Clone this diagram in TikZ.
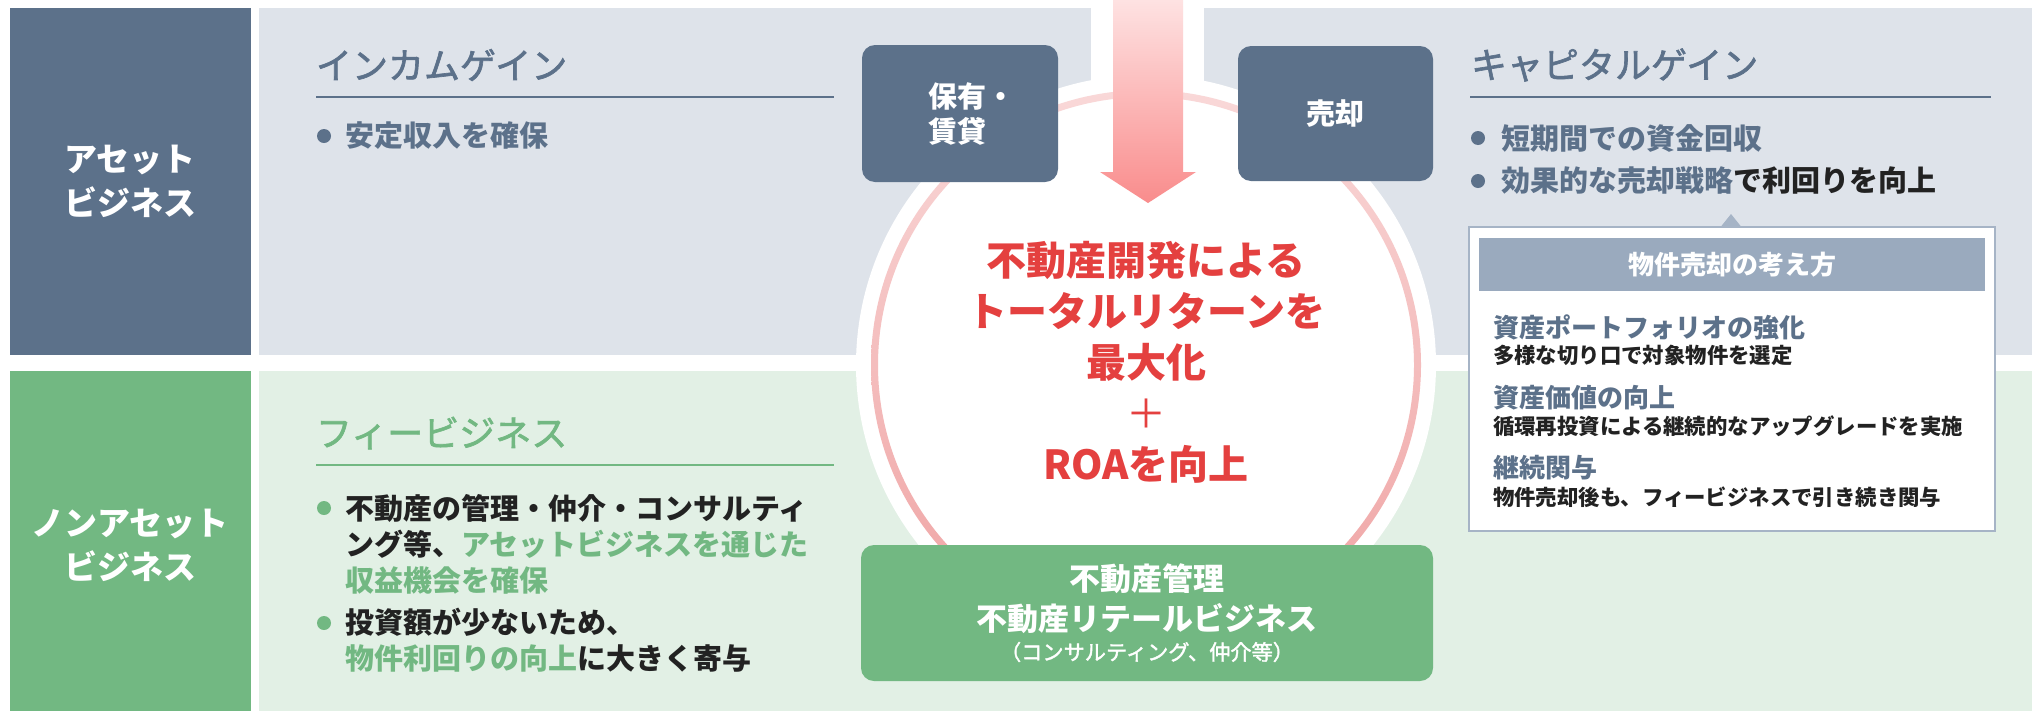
\documentclass[tikz,border=0pt]{standalone}
\usepackage{fontspec}
\setmainfont{Noto Sans CJK JP}
\newfontfamily\medfont{Noto Sans CJK JP}[FakeBold=1.8]
\definecolor{slate}{HTML}{5C718A}
\definecolor{topbg}{HTML}{DEE3EA}
\definecolor{fgreen}{HTML}{72B882}
\definecolor{botbg}{HTML}{E2F0E5}
\definecolor{redtxt}{HTML}{E4403F}
\definecolor{ringtop}{HTML}{F9D8D8}
\definecolor{ringbot}{HTML}{EFA2A2}
\definecolor{arrowtop}{HTML}{FEE2E2}
\definecolor{arrowbot}{HTML}{F98C8C}
\definecolor{pophead}{HTML}{9AAABE}
\definecolor{popborder}{HTML}{A6B4C6}
\definecolor{darktxt}{HTML}{222222}
\newcommand{\fsz}[2]{\fontsize{#1}{#2}\selectfont}
\begin{document}
\begin{tikzpicture}[x=0.5pt,y=-0.5pt,
  every node/.style={inner sep=0pt,outer sep=0pt},
  sidelabel/.style={text=white,font=\bfseries\fsz{16.5pt}{22pt},align=center},
  heading/.style={anchor=west,font=\medfont\fsz{18pt}{22pt}},
  bullettext/.style={anchor=west,align=left,font=\bfseries\fsz{14.5pt}{18pt}},
  dot/.style={circle,minimum size=7pt},
  slatebox/.style={fill=slate,rounded corners=6.5pt},
  boxtext/.style={text=white,font=\bfseries\fsz{14.5pt}{17.5pt},align=left},
  poptitle/.style={anchor=west,text=slate,font=\bfseries\fsz{13pt}{16pt}},
  popdesc/.style={anchor=west,text=darktxt,font=\bfseries\fsz{10.7pt}{13pt}}
]
\useasboundingbox (0,0) rectangle (2040,713);
\fill[white] (0,0) rectangle (2040,713);

% side columns
\fill[slate] (10,8) rectangle (251,355);
\fill[fgreen] (10,371) rectangle (251,711);
\node[sidelabel] (assetlbl) at (130,181) {アセット\\ビジネス};
\node[sidelabel] (nonassetlbl) at (130,545) {ノンアセット\\ビジネス};

% bands
\fill[topbg] (259,8) rectangle (2032,355);
\fill[botbg] (259,371) rectangle (2032,711);

% white gap round the arrow and the circle
\fill[white] (1091,0) rectangle (1204,200);
\fill[white] (1146,365) circle (290);
\shade[top color=ringtop,bottom color=ringbot,even odd rule]
  (1146,365) circle (275) (1146,365) circle (268);

% income gain
\node[heading,text=slate] (income) at (316,65) {インカムゲイン};
\draw[slate,line width=1.1pt] (316,97) -- (834,97);
\node[dot,fill=slate] (d1) at (324,136) {};
\node[bullettext,text=slate] (b1) at (345,136) {安定収入を確保};

% capital gain
\node[heading,text=slate] (capital) at (1471,65) {キャピタルゲイン};
\draw[slate,line width=1.1pt] (1470,97) -- (1991,97);
\node[dot,fill=slate] (d2) at (1478,138) {};
\node[bullettext,text=slate] (b2) at (1501,138) {短期間での資金回収};
\node[dot,fill=slate] (d3) at (1478,181) {};
\node[bullettext,text=slate] (b3) at (1501,181) {効果的な売却戦略\textcolor{darktxt}{で利回りを向上}};

% fee business
\node[heading,text=fgreen] (fee) at (316,433) {フィービジネス};
\draw[fgreen,line width=1.1pt] (316,465) -- (834,465);
\node[dot,fill=fgreen] (d4) at (324,508) {};
\node[bullettext,text=darktxt] (b4) at (345,544)
  {不動産の管理・仲介・コンサルティ\\ング等、\textcolor{fgreen}{アセットビジネスを通じた}\\\textcolor{fgreen}{収益機会を確保}};
\node[dot,fill=fgreen] (d5) at (324,623) {};
\node[bullettext,text=darktxt] (b5) at (345,640.5)
  {投資額が少ないため、\\\textcolor{fgreen}{物件利回りの向上}に大きく寄与};

% slate boxes
\node[slatebox,minimum width=98pt,minimum height=68.5pt] (hold) at (960,113.5) {};
\node[boxtext,anchor=west] (holdtxt) at (928,114) {保有・\\賃貸};
\node[slatebox,minimum width=97.5pt,minimum height=67.5pt] (sell) at (1335.5,113.5) {};
\node[boxtext] (selltxt) at (sell.center) {売却};

% green box
\node[fill=fgreen,rounded corners=6.5pt,minimum width=286pt,minimum height=68pt] (retail) at (1147,613) {};
\node[text=white,font=\bfseries\fsz{15.5pt}{20pt},align=center] (retailtxt) at (1147,599) {不動産管理\\不動産リテールビジネス};
\node[text=white,font=\medfont\fsz{10.6pt}{12pt}] (retailsub) at (1147,652) {（コンサルティング、仲介等）};

% arrow
\shade[top color=arrowtop,bottom color=arrowbot]
  (1113,0) -- (1183,0) -- (1183,172) -- (1196,172) -- (1148,203) -- (1100,172) -- (1113,172) -- cycle;

% centre text
\node[text=redtxt,font=\bfseries\fsz{20pt}{25.5pt},align=center] (goal) at (1146,362)
  {不動産開発による\\トータルリターンを\\最大化\\{\mdseries ＋}\\ROAを向上};

% popup
\fill[popborder] (1719,229) -- (1731,214) -- (1743,229) -- cycle;
\node[draw=popborder,line width=1.4pt,fill=white,minimum width=263pt,minimum height=152pt] (popup) at (1732,379) {};
\node[fill=pophead,minimum width=253pt,minimum height=26.5pt] (pophd) at (1732,264.5) {};
\node[text=white,font=\bfseries\fsz{13pt}{16pt}] (pophdtxt) at (pophd.center) {物件売却の考え方};
\node[poptitle] (p1t) at (1493,327) {資産ポートフォリオの強化};
\node[popdesc] (p1d) at (1493,355) {多様な切り口で対象物件を選定};
\node[poptitle] (p2t) at (1493,398) {資産価値の向上};
\node[popdesc] (p2d) at (1493,426) {循環再投資による継続的なアップグレードを実施};
\node[poptitle] (p3t) at (1493,468) {継続関与};
\node[popdesc] (p3d) at (1493,497) {物件売却後も、フィービジネスで引き続き関与};
\end{tikzpicture}
\end{document}
